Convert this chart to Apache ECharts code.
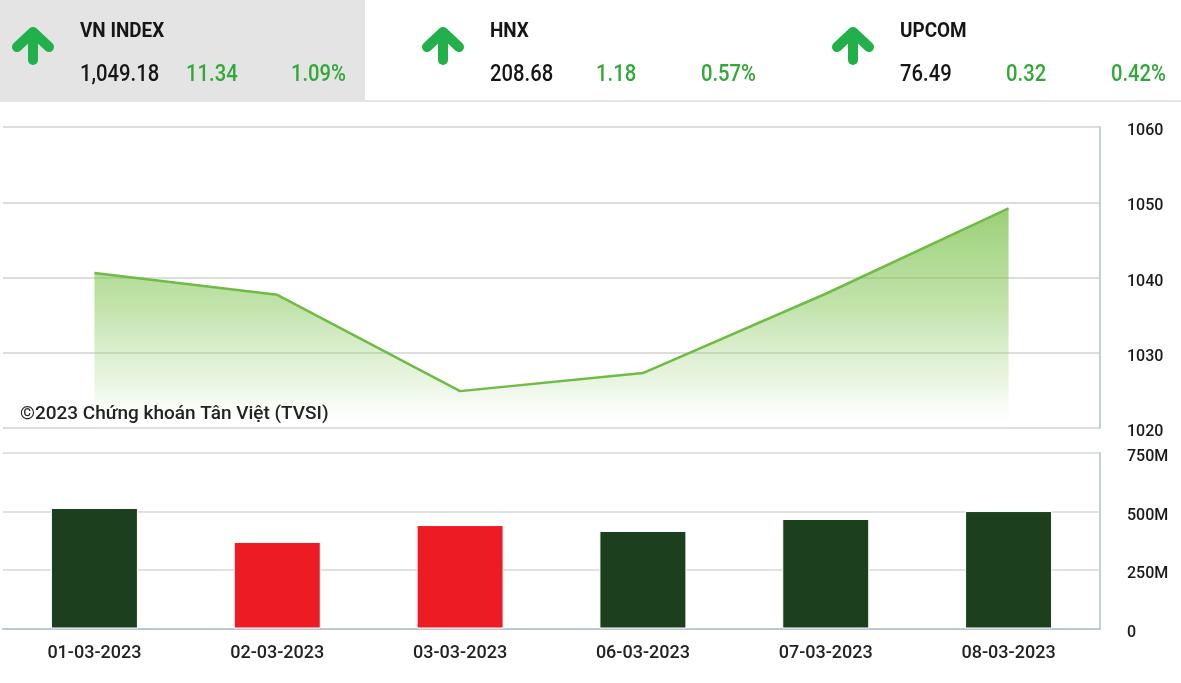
<!DOCTYPE html>
<html>
<head>
<meta charset="utf-8">
<script src="https://cdn.jsdelivr.net/npm/echarts@6/dist/echarts.min.js"></script>
<style>
html,body{margin:0;padding:0;background:#fff;}
#chart{width:1181px;height:683px;}
</style>
</head>
<body>
<div id="chart"></div>
<script>
// ---- data ----
var dates = ['01-03-2023','02-03-2023','03-03-2023','06-03-2023','07-03-2023','08-03-2023'];
var indexClose = [1040.6, 1037.7, 1024.9, 1027.3, 1037.84, 1049.18];
var volume = [515, 370, 442, 417, 468, 502]; // millions
var volumeUp = [true, false, false, true, true, true];
var priceTicks = [1020, 1030, 1040, 1050, 1060];
var volumeTicks = [0, 250, 500, 750];
var indexNames = ['VN INDEX', 'HNX', 'UPCOM'];
var indexValues = ['1,049.18', '208.68', '76.49'];
var indexChanges = ['11.34', '1.18', '0.32'];
var indexPercents = ['1.09%', '0.57%', '0.42%'];
var watermark = '©2023 Chứng khoán Tân Việt (TVSI)';

// ---- styles ----
var FONT = 'Roboto, "Noto Sans", sans-serif';
var GREEN_TXT = '#33a83a';
var ARROW = '#22b04b';
var DARK = '#161616';

var graphics = [
  {type:'rect', x:0, y:0, shape:{width:365, height:100}, style:{fill:'#e4e4e4'}, z:0},
  {type:'line', shape:{x1:0, y1:101, x2:1181, y2:101}, style:{stroke:'#dcdcdc', lineWidth:1.5}}
];
var bases = [0, 410, 820];
for (var i = 0; i < indexNames.length; i++) {
  var b = bases[i];
  graphics.push({type:'polyline', shape:{points:[[b+17,47],[b+33,32],[b+49,47]]},
    style:{stroke:ARROW, lineWidth:10, lineCap:'round', lineJoin:'round', fill:null}});
  graphics.push({type:'line', shape:{x1:b+33, y1:34, x2:b+33, y2:60},
    style:{stroke:ARROW, lineWidth:10, lineCap:'round'}});
  graphics.push({type:'text', x:b+80, y:32, scaleX:0.9,
    style:{text:indexNames[i], fill:DARK, fontSize:21, fontWeight:'bold', fontFamily:FONT, textAlign:'left', textVerticalAlign:'middle'}});
  graphics.push({type:'text', x:b+80, y:75, scaleX:0.88,
    style:{text:indexValues[i], fill:DARK, fontSize:23, fontWeight:500, fontFamily:FONT, textAlign:'left', textVerticalAlign:'middle'}});
  graphics.push({type:'text', x:b+186, y:75, scaleX:0.88,
    style:{text:indexChanges[i], fill:GREEN_TXT, fontSize:23, fontWeight:500, fontFamily:FONT, textAlign:'left', textVerticalAlign:'middle'}});
  graphics.push({type:'text', x:b+346, y:75, scaleX:0.88,
    style:{text:indexPercents[i], fill:GREEN_TXT, fontSize:23, fontWeight:500, fontFamily:FONT, textAlign:'right', textVerticalAlign:'middle'}});
}
graphics.push({type:'text', x:20, y:414, z:100,
  style:{text:watermark, fill:'#222', fontSize:19, fontWeight:500, fontFamily:FONT, textAlign:'left', textVerticalAlign:'middle'}});

var labelRich = {a:{color:'#1a1a1a', fontSize:16, fontWeight:500, fontFamily:FONT, padding:[8,0,0,0]}};

var chart = echarts.init(document.getElementById('chart'), null, {renderer:'canvas'});
chart.setOption({
  animation:false,
  backgroundColor:'#fff',
  graphic: graphics,
  grid:[
    {left:3, right:81, top:127, height:301},
    {left:3, right:81, top:453, height:175.5}
  ],
  xAxis:[
    {type:'category', gridIndex:0, data:dates, boundaryGap:true,
     axisLine:{show:false}, axisTick:{show:false}, axisLabel:{show:false}, splitLine:{show:false}},
    {type:'category', gridIndex:1, data:dates, boundaryGap:true,
     axisLine:{show:true, lineStyle:{color:'#bcc7d4', width:2}}, axisTick:{show:false},
     axisLabel:{color:'#222', fontSize:18, fontWeight:500, fontFamily:FONT, margin:16}, splitLine:{show:false}}
  ],
  yAxis:[
    {type:'value', gridIndex:0, position:'right', min:priceTicks[0], max:priceTicks[priceTicks.length-1], interval:10,
     axisLine:{show:true, lineStyle:{color:'#c4cfdb', width:2}}, axisTick:{show:false},
     axisLabel:{margin:27, rich:labelRich,
       formatter:function(v){return '{a|' + v + '}';}},
     splitLine:{show:true, lineStyle:{color:'#d2d2d2', width:1.5}}},
    {type:'value', gridIndex:1, position:'right', min:volumeTicks[0], max:volumeTicks[volumeTicks.length-1], interval:250,
     axisLine:{show:true, lineStyle:{color:'#c4cfdb', width:2}}, axisTick:{show:false},
     axisLabel:{margin:27, rich:labelRich,
       formatter:function(v){return '{a|' + (v===0 ? '0' : v + 'M') + '}';}},
     splitLine:{show:true, lineStyle:{color:'#d3d8df', width:1.5}}}
  ],
  series:[
    {type:'line', xAxisIndex:0, yAxisIndex:0, data:indexClose, symbol:'none',
     lineStyle:{color:'#70bb45', width:2.5},
     areaStyle:{color:new echarts.graphic.LinearGradient(0,0,0,1,[
       {offset:0, color:'rgba(112,188,58,1)'},
       {offset:0.45, color:'rgba(130,198,85,0.7)'},
       {offset:0.8, color:'rgba(170,215,140,0.35)'},
       {offset:1, color:'rgba(255,255,255,0.1)'}])}},
    {type:'bar', xAxisIndex:1, yAxisIndex:1, barWidth:87,
     data:volume.map(function(v,i){return {value:v, itemStyle:{color: volumeUp[i] ? '#1c401e' : '#ed1c24'}};}),
     itemStyle:{borderColor:'#ffffff', borderWidth:1}}
  ]
});
</script>
</body>
</html>
